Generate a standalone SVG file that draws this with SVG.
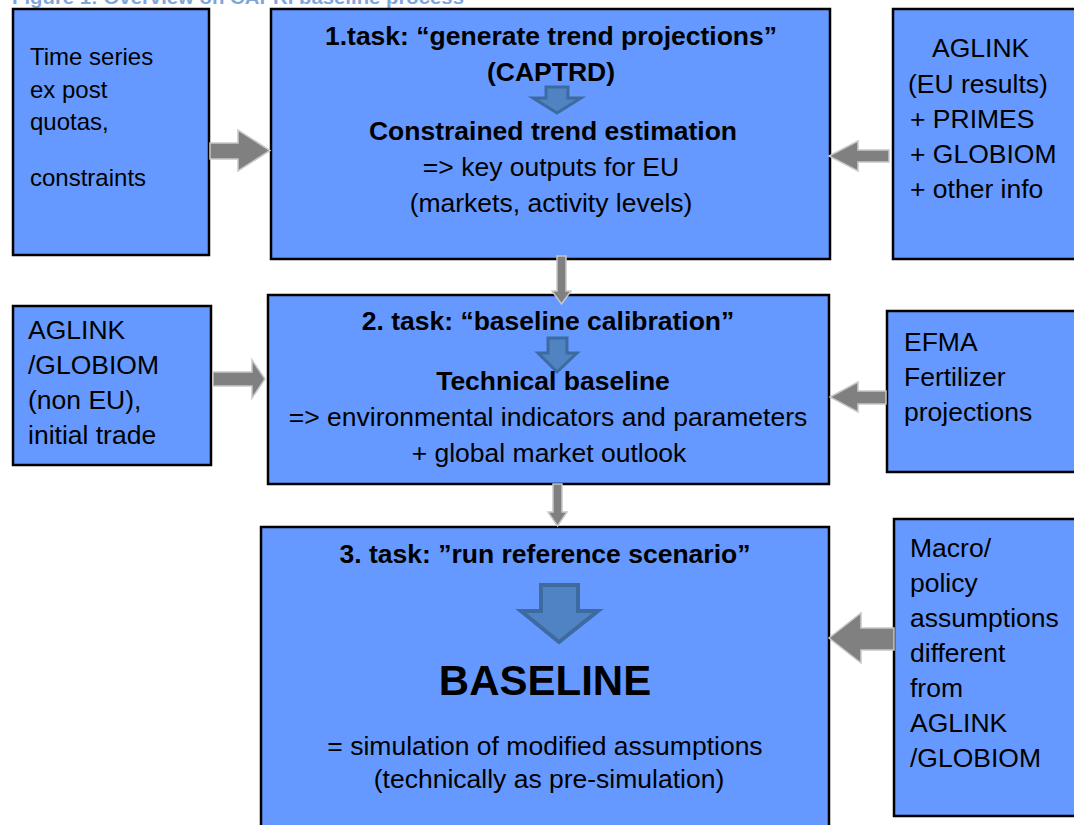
<svg xmlns="http://www.w3.org/2000/svg" width="1074" height="825" viewBox="0 0 1074 825">
<style>
.box{fill:#6699ff;stroke:#000;stroke-width:2.5}
.t{font-family:"Liberation Sans",Arial,sans-serif;font-size:26.5px;fill:#000}
.s{font-size:24px}
.b{font-weight:bold}
.m{text-anchor:middle}
.ga{fill:#808080;stroke:#c8c8c8;stroke-width:1.5;stroke-linejoin:miter}
.ba{fill:#4f83c2;stroke:#3d6a9f;stroke-width:3;stroke-linejoin:miter}
.title{font-family:"Liberation Sans",Arial,sans-serif;font-size:18px;font-weight:bold;fill:#7fa6d8}
</style>
<rect width="1074" height="825" fill="#fff"/>
<text class="title" x="12" y="4" textLength="452" lengthAdjust="spacingAndGlyphs">Figure 1: Overview on CAPRI baseline process</text>

<g id="timeseries">
<rect class="box" x="13" y="9" width="196" height="246"/>
<text class="t s" x="30" y="65">Time series</text>
<text class="t s" x="30" y="98">ex post</text>
<text class="t s" x="30" y="130">quotas,</text>
<text class="t s" x="30" y="186">constraints</text>
</g>

<g id="task1">
<rect class="box" x="271" y="9" width="559" height="250"/>
<text class="t b m" x="551" y="45">1.task: “generate trend projections”</text>
<text class="t b m" x="551" y="81">(CAPTRD)</text>
<polygon class="ba" points="546,87 568,87 568,98 581,98 557,113 533,98 546,98"/>
<text class="t b m" x="553" y="140">Constrained trend estimation</text>
<text class="t m" x="551" y="176">=&gt; key outputs for EU</text>
<text class="t m" x="551" y="212">(markets, activity levels)</text>
</g>

<g id="aglink-eu">
<rect class="box" x="893" y="9" width="190" height="250"/>
<text class="t" x="932" y="57">AGLINK</text>
<text class="t" x="908" y="93">(EU results)</text>
<text class="t" x="910" y="128">+ PRIMES</text>
<text class="t" x="910" y="163">+ GLOBIOM</text>
<text class="t" x="910" y="198">+ other info</text>
</g>

<g id="aglink-noneu">
<rect class="box" x="13" y="306" width="198" height="159"/>
<text class="t" x="28" y="339">AGLINK</text>
<text class="t" x="28" y="374">/GLOBIOM</text>
<text class="t" x="28" y="409">(non EU),</text>
<text class="t" x="28" y="444">initial trade</text>
</g>

<g id="task2">
<rect class="box" x="268" y="295" width="561" height="189"/>
<text class="t b m" x="548" y="330">2. task: “baseline calibration”</text>
<polygon class="ba" points="548,338 567,338 567,353 577,353 557,372 538,353 548,353"/>
<text class="t b m" x="553" y="390">Technical baseline</text>
<text class="t m" x="548" y="426">=&gt; environmental indicators and parameters</text>
<text class="t m" x="549" y="462">+ global market outlook</text>
</g>

<g id="efma">
<rect class="box" x="887" y="311" width="196" height="161"/>
<text class="t" x="904" y="351">EFMA</text>
<text class="t" x="904" y="386">Fertilizer</text>
<text class="t" x="904" y="421">projections</text>
</g>

<g id="task3">
<rect class="box" x="261" y="527" width="568" height="310"/>
<text class="t b m" x="545" y="563">3. task: ”run reference scenario”</text>
<polygon class="ba" style="stroke-width:4" points="541,585 578,585 578,611 598,611 559,642 521,611 541,611"/>
<text class="t b m" x="545" y="695" style="font-size:42px">BASELINE</text>
<text class="t m" x="545" y="755">= simulation of modified assumptions</text>
<text class="t m" x="549" y="788">(technically as pre-simulation)</text>
</g>

<g id="macro">
<rect class="box" x="894" y="519" width="190" height="297"/>
<text class="t" x="910" y="557">Macro/</text>
<text class="t" x="910" y="592">policy</text>
<text class="t" x="910" y="627">assumptions</text>
<text class="t" x="910" y="662">different</text>
<text class="t" x="910" y="697">from</text>
<text class="t" x="910" y="732">AGLINK</text>
<text class="t" x="910" y="767">/GLOBIOM</text>
</g>

<g id="connectors">
<polygon class="ga" points="210,143 238,143 238,130 270,150.5 238,171 238,159 210,159"/>
<polygon class="ga" points="889,150 858,150 858,141 829,156 858,171 858,162 889,162"/>
<polygon class="ga" points="557,256 566,256 566,291 571,291 561.5,304 552,291 557,291"/>
<polygon class="ga" points="213,372 252,372 252,360 265,379 252,398 252,386 213,386"/>
<polygon class="ga" points="886,391 858,391 858,382 830,397 858,412 858,404 886,404"/>
<polygon class="ga" points="553,484 562,484 562,512 567,512 557.5,526 548,512 553,512"/>
<polygon class="ga" points="894,628 861,628 861,613 829,638 861,663 861,650 894,650"/>
</g>
</svg>
